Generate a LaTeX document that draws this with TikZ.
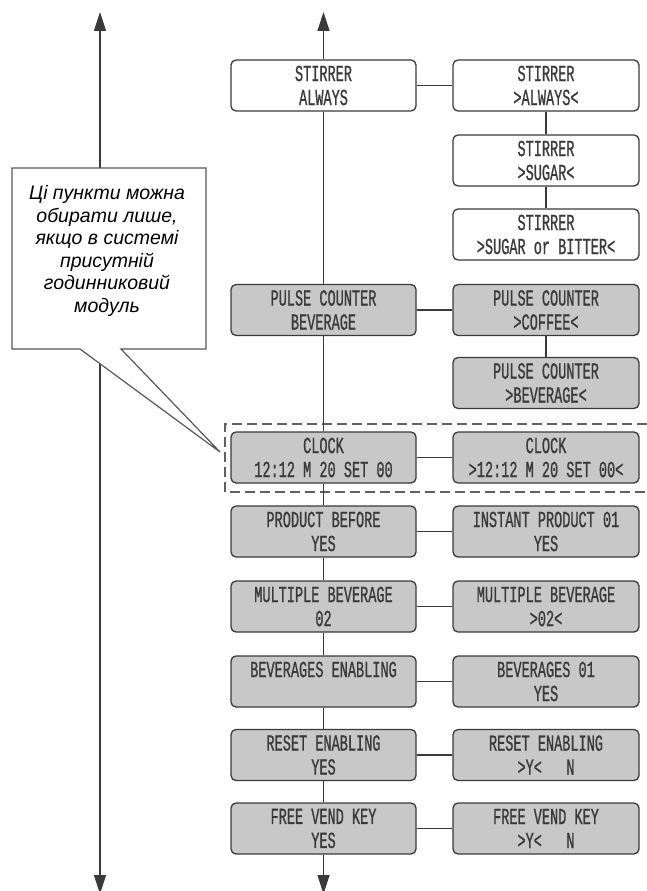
\documentclass[tikz,border=0pt]{standalone}
\usepackage{fontspec}
\setmainfont{Liberation Sans}
\newfontfamily\lcd[FakeStretch=0.59, FakeBold=0.8]{Liberation Mono}
\usetikzlibrary{arrows.meta}
\definecolor{ln}{HTML}{3A3A3A}
\definecolor{boxfill}{HTML}{C8C8C8}
\definecolor{txt}{HTML}{3A3A3A}
\tikzset{
  menubox/.style={draw=ln, line width=1.3pt, rounded corners=5pt, fill=boxfill,
    minimum height=51pt, align=center, text=txt, inner sep=0pt,
    font=\lcd\fontsize{23}{24}\selectfont},
  lbox/.style={menubox, minimum width=185pt},
  rbox/.style={menubox, minimum width=186pt},
  conn/.style={draw=ln, line width=1.3pt},
  arr/.style={conn, -{Triangle[length=19pt,width=12pt]}},
  frame/.style={draw=ln!80, line width=1.3pt, dash pattern=on 10pt off 5pt},
}
\begin{document}
\begin{tikzpicture}[x=1pt,y=-1pt]
\useasboundingbox (0,0) rectangle (647,891);
% left long line
\coordinate (ltop) at (100,12);
\coordinate (lbot) at (100,894);
\draw[conn, {Triangle[length=19pt,width=12pt]}-{Triangle[length=19pt,width=12pt]}] (ltop) -- (lbot);
% callout
\draw[draw=ln!85, line width=1.2pt, fill=white]
  (12,168) -- (206,168) -- (206,349) -- (121,349) -- (220,452) -- (80,349) -- (12,349) -- cycle;
\node[align=center, font=\itshape\fontsize{19.5}{22.5}\selectfont, text=black] (note) at (107,251)
  {Ці пункти можна\\обирати лише,\\якщо в системі\\присутній\\годинниковий\\модуль};
% dashed frame
\draw[frame] (647,424) -- (225,424) -- (225,492) -- (647,492);
% boxes
\node[lbox, fill=white] (a1) at (323.5,85.5) {STIRRER\\ALWAYS};
\node[rbox, fill=white] (b1) at (546,85.5) {STIRRER\\>ALWAYS<};
\node[rbox, fill=white] (b2) at (546,160.5) {STIRRER\\>SUGAR<};
\node[rbox, fill=white] (b3) at (546,234.5) {STIRRER\\>SUGAR or BITTER<};
\node[lbox] (a2) at (323.5,310) {PULSE COUNTER\\BEVERAGE};
\node[rbox] (b4) at (546,310) {PULSE COUNTER\\>COFFEE<};
\node[rbox] (b5) at (546,383) {PULSE COUNTER\\>BEVERAGE<};
\node[lbox] (a3) at (323.5,457.5) {CLOCK\\12:12 M 20 SET 00};
\node[rbox] (b6) at (546,457.5) {CLOCK\\>12:12 M 20 SET 00<};
\node[lbox] (a4) at (323.5,531.5) {PRODUCT BEFORE\\YES};
\node[rbox] (b7) at (546,531.5) {INSTANT PRODUCT 01\\YES};
\node[lbox] (a5) at (323.5,606.5) {MULTIPLE BEVERAGE\\02};
\node[rbox] (b8) at (546,606.5) {MULTIPLE BEVERAGE\\>02<};
\node[lbox] (a6) at (323.5,681.5) {BEVERAGES ENABLING\\\phantom{YES}};
\node[rbox] (b9) at (546,681.5) {BEVERAGES 01\\YES};
\node[lbox] (a7) at (323.5,755) {RESET ENABLING\\YES};
\node[rbox] (b10) at (546,755) {RESET ENABLING\\>Y<\ \ \ N};
\node[lbox] (a8) at (323.5,828.5) {FREE VEND KEY\\YES};
\node[rbox] (b11) at (546,828.5) {FREE VEND KEY\\>Y<\ \ \ N};
% main vertical
\coordinate (mtop) at (323.5,12);
\coordinate (mbot) at (323.5,894);
\draw[arr] (a1.north) -- (mtop);
\draw[arr] (a8.south) -- (mbot);
\foreach \u/\v in {a1/a2,a2/a3,a3/a4,a4/a5,a5/a6,a6/a7,a7/a8}
  \draw[conn] (\u.south) -- (\v.north);
% horizontals
\foreach \u/\v in {a1/b1,a2/b4,a3/b6,a4/b7,a5/b8,a6/b9,a7/b10,a8/b11}
  \draw[conn] (\u.east) -- (\v.west);
% right verticals
\draw[conn] (b1.south) -- (b2.north);
\draw[conn] (b2.south) -- (b3.north);
\draw[conn] (b4.south) -- (b5.north);
\end{tikzpicture}
\end{document}
